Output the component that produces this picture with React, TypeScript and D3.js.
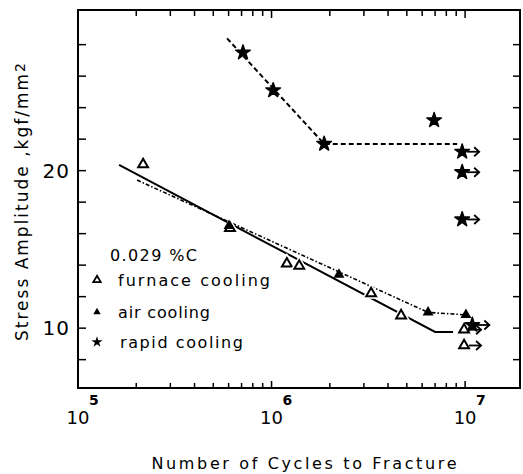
import React from 'react';
import * as d3 from 'd3';

// ---- data ----
const furnaceN = [2.17e5, 6.1e5, 1.2e6, 1.39e6, 3.27e6, 4.67e6];
const furnaceS = [20.4, 16.35, 14.1, 13.95, 12.2, 10.8];
const furnaceRunN = [9.88e6, 9.88e6];
const furnaceRunS = [9.9, 8.9];
const airN = [6.03e5, 2.23e6, 6.44e6, 1.01e7];
const airS = [16.5, 13.4, 11.0, 10.85];
const rapidN = [7.12e5, 1.02e6, 1.87e6, 6.92e6];
const rapidS = [27.5, 25.1, 21.7, 23.2];
const rapidRunN = [9.66e6, 9.66e6, 9.66e6, 1.09e7];
const rapidRunS = [21.2, 19.9, 16.9, 10.2];
const furnaceLineN = [1.63e5, 7.0e6, 8.67e6];
const furnaceLineS = [20.36, 9.76, 9.76];
const airLineN = [2.02e5, 6.44e6, 1.0e7];
const airLineS = [19.4, 11.0, 10.85];
const rapidLineN = [5.89e5, 1.87e6, 9.1e6];
const rapidLineS = [28.4, 21.7, 21.7];
const yTickValues = [8, 10, 12, 14, 16, 18, 20, 22, 24, 26, 28];
const yTickLabels = [10, 20];
const xDecades = [5, 6, 7];
const legendItems = ['furnace cooling', 'air cooling', 'rapid cooling'];
const legendTitle = '0.029 %C';
const xTitle = 'Number of Cycles to Fracture';

const W = 523, H = 474;
const L = 78, R = 520, T = 10, B = 388;
const FONT = '"DejaVu Sans", Verdana, sans-serif';

export default function App() {
  const x = d3.scaleLog().domain([1e5, 1.922e7]).range([L, R]);
  const y = d3.scaleLinear().domain([6.2, 30.2]).range([B, T]);

  const line = d3.line<[number, number]>().x(d => x(d[0])).y(d => y(d[1]));
  const pts = (ns: number[], ss: number[]) => ns.map((n, i) => [n, ss[i]] as [number, number]);

  const openTri = d3.symbol().type(d3.symbolTriangle).size(42)() as string;
  const fillTri = d3.symbol().type(d3.symbolTriangle).size(52)() as string;
  const starPath = d3.symbol().type(d3.symbolStar).size(66)() as string;
  const legTri = d3.symbol().type(d3.symbolTriangle).size(24)() as string;
  const legStar = d3.symbol().type(d3.symbolStar).size(38)() as string;

  const xMinor: number[] = [];
  for (const d of xDecades) for (let m = 1; m <= 9; m++) {
    const v = m * Math.pow(10, d);
    if (v >= 1e5 && v <= 1.922e7) xMinor.push(v);
  }
  const xMajor = xDecades.map(d => Math.pow(10, d));

  const arrow = (cx: number, cy: number, k: string) => (
    <g key={k} stroke="#000" strokeWidth={1.8} fill="none">
      <line x1={cx + 5} y1={cy} x2={cx + 17} y2={cy} />
      <polyline points={`${cx + 12},${cy - 4.5} ${cx + 17},${cy} ${cx + 12},${cy + 4.5}`} />
    </g>
  );

  return (
    <svg width={W} height={H} style={{ position: 'absolute', left: 0, top: 0, background: '#fff' }}
      fontFamily={FONT}>
      <rect x={0} y={0} width={W} height={H} fill="#fff" />
      {/* frame */}
      <rect x={L} y={T} width={R - L} height={B - T} fill="none" stroke="#000" strokeWidth={2} />
      {/* x ticks bottom & top */}
      {xMinor.map((v, i) => {
        const major = xMajor.includes(v);
        const len = major ? 7 : 5;
        return (
          <g key={'xt' + i} stroke="#000" strokeWidth={1.5}>
            <line x1={x(v)} x2={x(v)} y1={B} y2={B - len} />
            <line x1={x(v)} x2={x(v)} y1={T} y2={T + len + 1} />
          </g>
        );
      })}
      {/* y ticks left & right */}
      {yTickValues.map((v, i) => (
        <g key={'yt' + i} stroke="#000" strokeWidth={1.5}>
          <line x1={L} x2={L + 8} y1={y(v)} y2={y(v)} />
          <line x1={R} x2={R - 7} y1={y(v)} y2={y(v)} />
        </g>
      ))}
      {/* y tick labels */}
      {yTickLabels.map(v => (
        <text key={'yl' + v} x={70} y={y(v) + 7} fontSize={20} textAnchor="end" letterSpacing={1}>{v}</text>
      ))}
      {/* x tick labels */}
      {xMajor.map((v, i) => (
        <g key={'xl' + i}>
          <text x={x(v)} y={424} fontSize={18} textAnchor="middle">10</text>
          <text x={x(v) + 11} y={405} fontSize={14} textAnchor="start" fontWeight="bold">{xDecades[i]}</text>
        </g>
      ))}
      {/* axis titles */}
      <text x={304} y={469} fontSize={16} textAnchor="middle" textLength={305} lengthAdjust="spacing">{xTitle}</text>
      <text transform="translate(28,202) rotate(-90)" fontSize={17} textAnchor="middle" textLength={278} lengthAdjust="spacing">
        Stress Amplitude ,kgf/mm<tspan fontSize={14} dy={-3}>2</tspan>
      </text>

      {/* lines */}
      <path d={line(pts(furnaceLineN, furnaceLineS)) as string} fill="none" stroke="#000" strokeWidth={2} />
      <path d={line(pts(airLineN, airLineS)) as string} fill="none" stroke="#000" strokeWidth={1.6} strokeDasharray="4 2 1.5 2" />
      <path d={line(pts(rapidLineN, rapidLineS)) as string} fill="none" stroke="#000" strokeWidth={2} strokeDasharray="5 3" />

      {/* furnace: open triangles */}
      {pts(furnaceN, furnaceS).map((d, i) => (
        <g key={'f' + i} transform={`translate(${x(d[0])},${y(d[1])})`}>
          <path d={openTri} fill="#fff" stroke="#fff" strokeWidth={5} />
          <path d={openTri} fill="#fff" stroke="#000" strokeWidth={2} />
        </g>
      ))}
      {pts(furnaceRunN, furnaceRunS).map((d, i) => (
        <g key={'fr' + i}>
          <g transform={`translate(${x(d[0])},${y(d[1])})`}>
            <path d={openTri} fill="#fff" stroke="#000" strokeWidth={2} />
          </g>
          {arrow(x(d[0]), y(d[1]), 'fra' + i)}
        </g>
      ))}
      {/* air: filled triangles */}
      {pts(airN, airS).map((d, i) => (
        <path key={'a' + i} d={fillTri} transform={`translate(${x(d[0])},${y(d[1])})`} fill="#000" />
      ))}
      {/* rapid: stars */}
      {pts(rapidN, rapidS).map((d, i) => (
        <path key={'r' + i} d={starPath} transform={`translate(${x(d[0])},${y(d[1])})`} fill="#000" stroke="#000" strokeWidth={1.5} strokeLinejoin="round" />
      ))}
      {pts(rapidRunN, rapidRunS).map((d, i) => (
        <g key={'rr' + i}>
          <path d={starPath} transform={`translate(${x(d[0])},${y(d[1])})`} fill="#000" stroke="#000" strokeWidth={1.5} strokeLinejoin="round" />
          {arrow(x(d[0]), y(d[1]), 'rra' + i)}
        </g>
      ))}

      {/* legend */}
      <text x={110} y={261} fontSize={16} textLength={87} lengthAdjust="spacing">{legendTitle}</text>
      {legendItems.map((t, i) => {
        const cy = [280, 312, 342][i];
        const w = [152, 92, 123][i];
        const tx = i === 2 ? 120 : 118;
        return (
          <g key={'lg' + i}>
            {i === 0 && <path d={legTri} transform={`translate(97,${cy})`} fill="#fff" stroke="#000" strokeWidth={1.8} />}
            {i === 1 && <path d={legTri} transform={`translate(97,${cy})`} fill="#000" />}
            {i === 2 && <path d={legStar} transform={`translate(97,${cy})`} fill="#000" />}
            <text x={tx} y={cy + 6} fontSize={16} textLength={w} lengthAdjust="spacing">{t}</text>
          </g>
        );
      })}
    </svg>
  );
}
